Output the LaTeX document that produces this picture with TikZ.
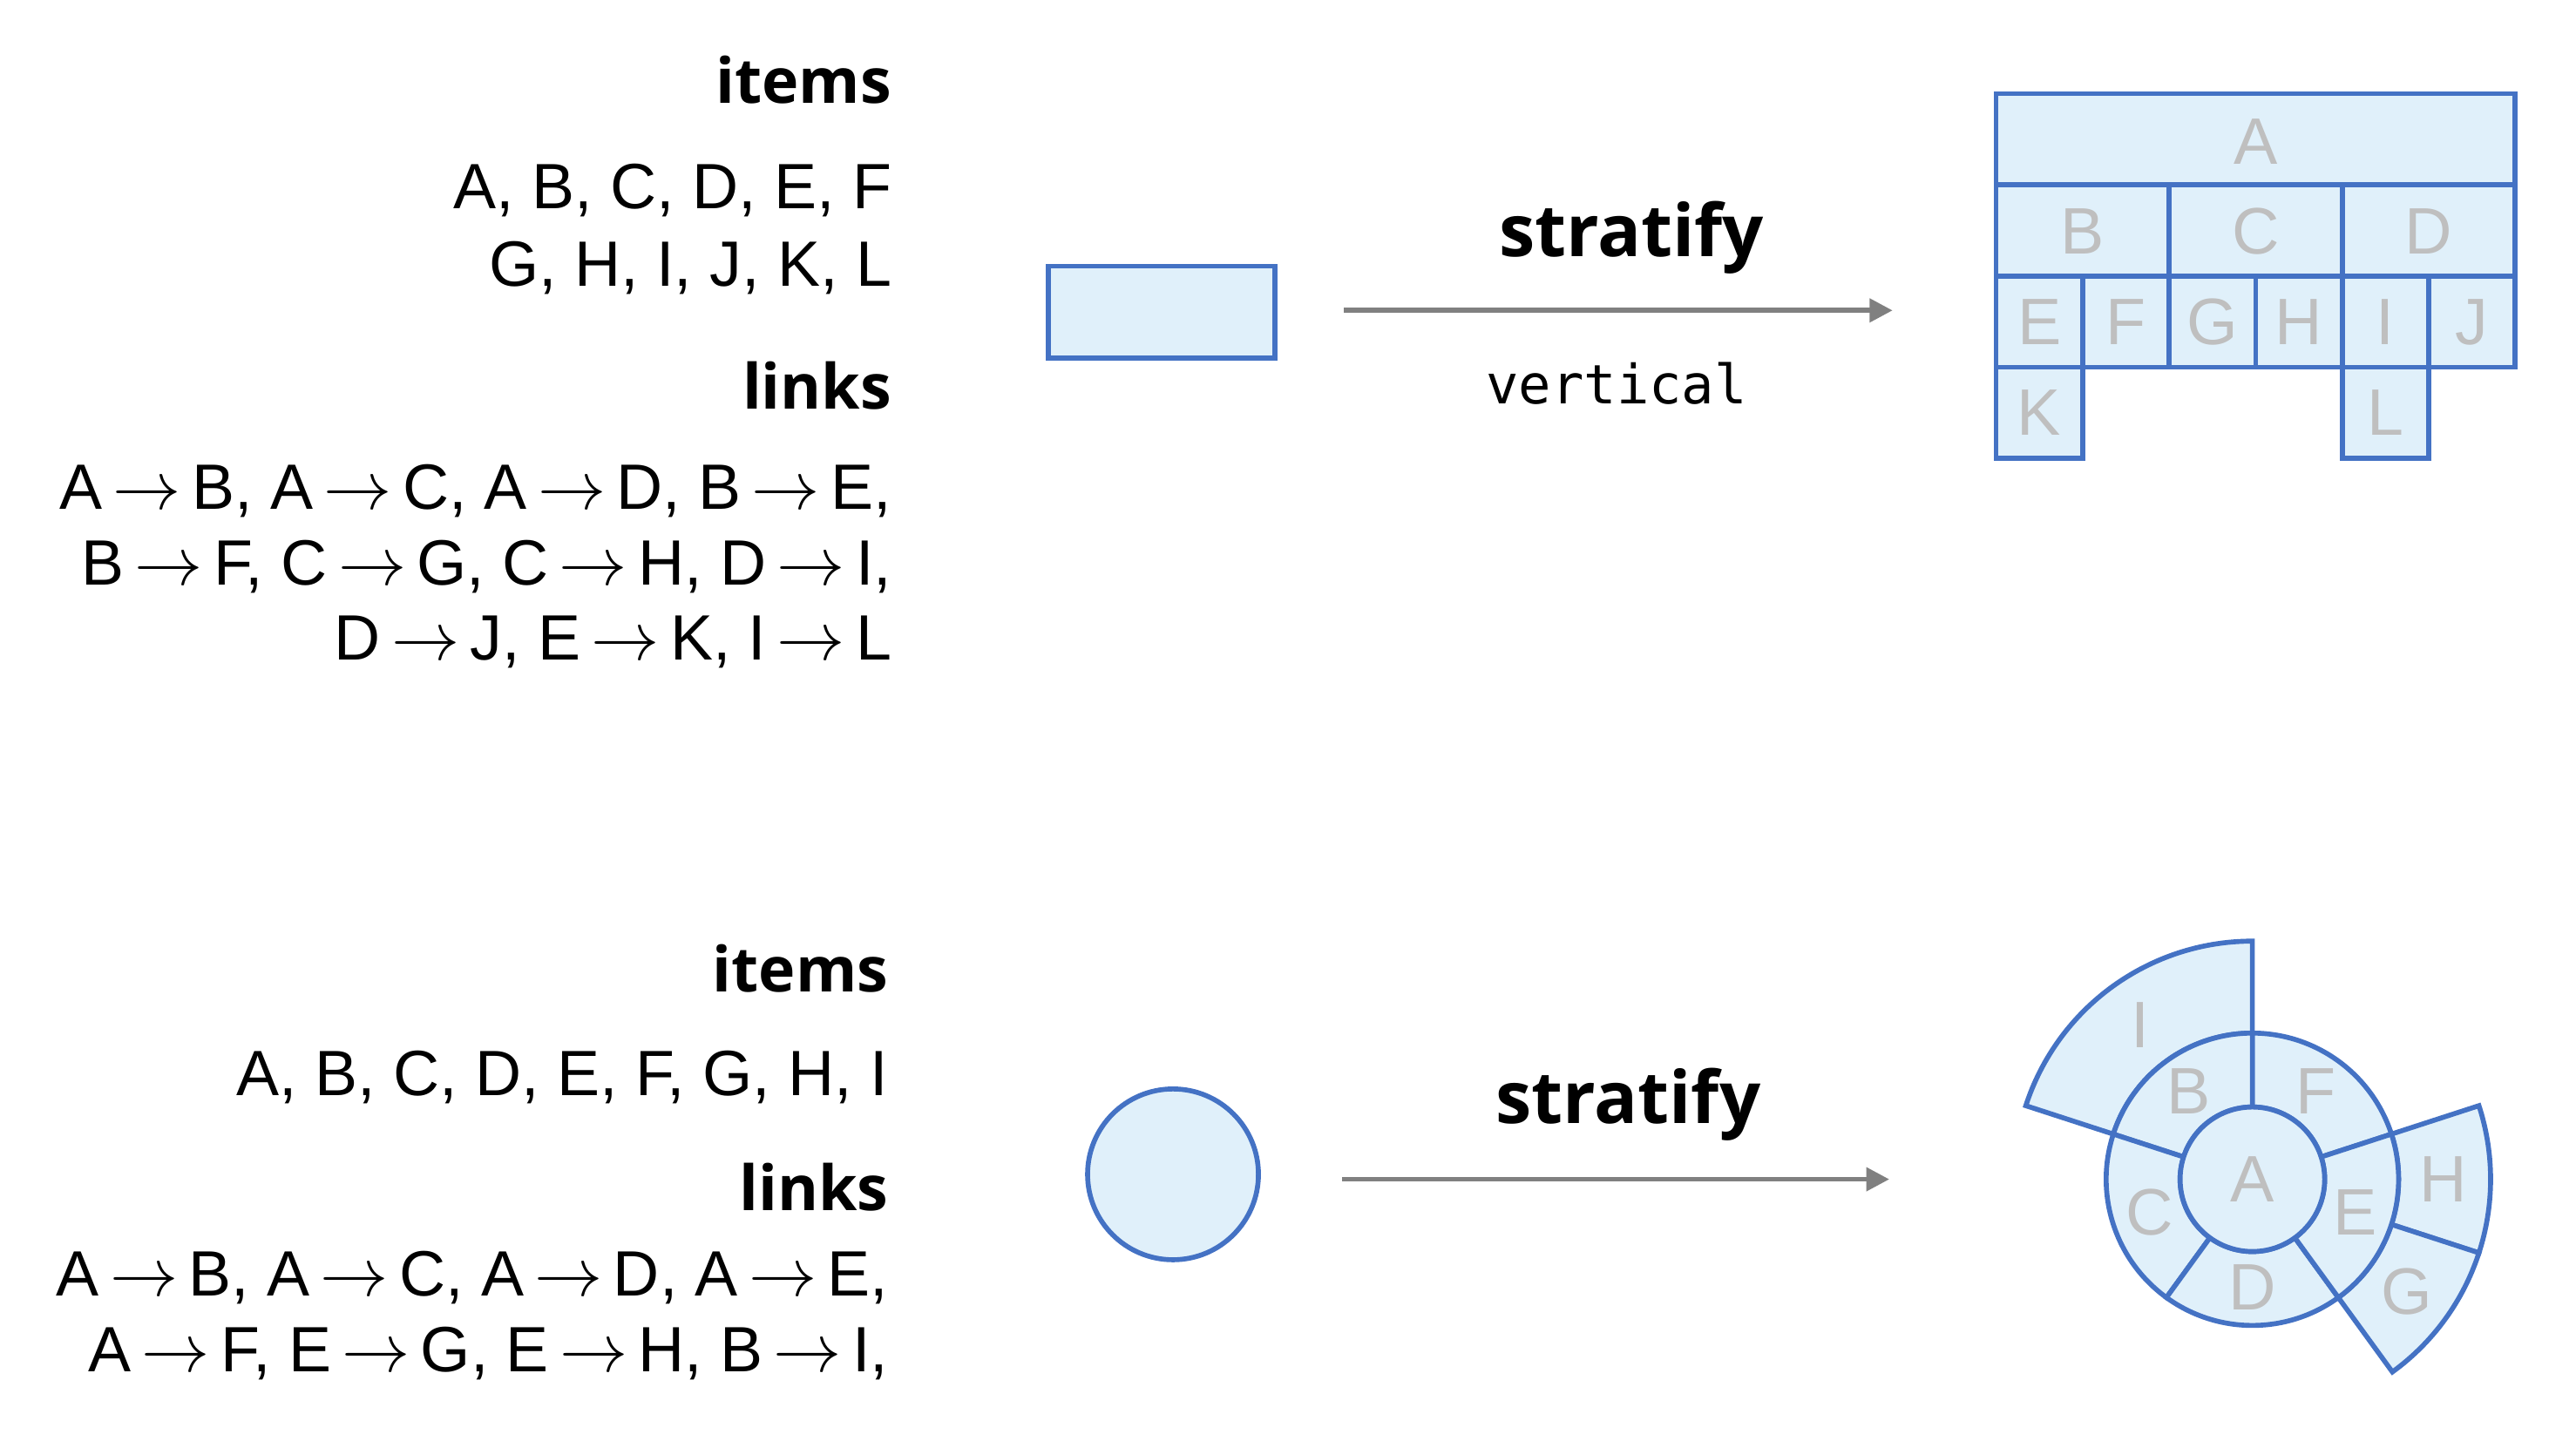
\documentclass[tikz,border=0pt]{standalone}
\usepackage{fontspec}
\setmainfont{Liberation Sans}
\newfontfamily\hdfont{Open Sans}
\newfontfamily\monofnt{DejaVu Sans Mono}
\usetikzlibrary{arrows.meta}
\definecolor{sbline}{HTML}{4472C4}
\definecolor{sbfill}{HTML}{E0F0FA}
\definecolor{lblgrey}{HTML}{BFBFBF}
\definecolor{arrgrey}{HTML}{808080}
\newcommand{\ra}{\,$\rightarrow$\,}
\begin{document}
\begin{tikzpicture}[x=0.5pt,y=-0.5pt,
  txt/.style={anchor=base east,inner sep=0pt,font=\fontsize{19.5}{24}\selectfont},
  hd/.style={anchor=base east,inner sep=0pt,font=\hdfont\bfseries\fontsize{19}{23}\selectfont},
  strat/.style={anchor=base,inner sep=0pt,font=\hdfont\bfseries\fontsize{22}{26}\selectfont},
  lbl/.style={inner sep=0pt,text=lblgrey,font=\fontsize{20}{24}\selectfont},
  cell/.style={draw=sbline,fill=sbfill,line width=1.5pt},
  arr/.style={draw=arrgrey,line width=1.5pt,-{Triangle[length=7pt,width=7pt]}}]
\useasboundingbox (0,0) rectangle (1568,877);
% ---------- top panel ----------
\node[hd] (it1) at (543,63) {items};
\node[txt] (i1a) at (543,127) {A, B, C, D, E, F};
\node[txt] (i1b) at (543,174) {G, H, I, J, K, L};
\node[hd] (ln1) at (543,249) {links};
\node[txt] (l1a) at (543,310) {A\ra B, A\ra C, A\ra D, B\ra E,};
\node[txt] (l1b) at (543,356) {B\ra F, C\ra G, C\ra H, D\ra I,};
\node[txt] (l1c) at (543,402) {D\ra J, E\ra K, I\ra L};
\draw[cell] (638,162) rectangle (776,218);
\coordinate (a1s) at (818,189);
\coordinate (a1e) at (1152,189);
\draw[arr] (a1s) -- (a1e);
\node[strat] (s1) at (993,156) {stratify};
\node[anchor=base,inner sep=0pt,font=\monofnt\fontsize{16.5}{20}\selectfont] (v1) at (984,246) {vertical};
% icicle
\draw[cell] (1215,57) rectangle (1531,112.5);
\node[lbl] at (1373,86) {A};
\foreach \i/\t in {0/B,1/C,2/D}{
  \draw[cell] ({1215+\i*105.33},112.5) rectangle ({1215+(\i+1)*105.33},168);
  \node[lbl] at ({1215+(\i+0.5)*105.33},141) {\t};}
\foreach \i/\t in {0/E,1/F,2/G,3/H,4/I,5/J}{
  \draw[cell] ({1215+\i*52.67},168) rectangle ({1215+(\i+1)*52.67},223.5);
  \node[lbl] at ({1215+(\i+0.5)*52.67},196) {\t};}
\draw[cell] (1215,223.5) rectangle (1267.67,279);
\node[lbl] at (1241.3,251) {K};
\draw[cell] (1425.67,223.5) rectangle (1478.33,279);
\node[lbl] at (1452,251) {L};
% ---------- bottom panel ----------
\node[hd] (it2) at (541,604) {items};
\node[txt] (i2a) at (541,667) {A, B, C, D, E, F, G, H, I};
\node[hd] (ln2) at (541,737) {links};
\node[txt] (l2a) at (541,789) {A\ra B, A\ra C, A\ra D, A\ra E,};
\node[txt] (l2b) at (541,835) {A\ra F, E\ra G, E\ra H, B\ra I,};
\draw[cell] (714,715) circle[radius=52];
\coordinate (a2s) at (817,718);
\coordinate (a2e) at (1150,718);
\draw[arr] (a2s) -- (a2e);
\node[strat] (s2) at (991,684) {stratify};
% sunburst
\coordinate (c) at (1371,718);
\newcommand{\sbsector}[4]{%
  \draw[cell] ([shift={(-#1:#3)}]c) arc[start angle=-#1,end angle=-#2,radius=#3]
    -- ([shift={(-#2:#4)}]c) arc[start angle=-#2,end angle=-#1,radius=#4] -- cycle;}
\sbsector{90}{162}{89}{145}
\sbsector{-18}{18}{89}{145}
\sbsector{-54}{-18}{89}{145}
\sbsector{18}{90}{44}{89}
\sbsector{90}{162}{44}{89}
\sbsector{162}{234}{44}{89}
\sbsector{234}{306}{44}{89}
\sbsector{-54}{18}{44}{89}
\draw[cell] (c) circle[radius=44];
\node[lbl] at (c) {A};
\foreach \a/\t in {54/F,126/B,198/C,270/D,-18/E}{\node[lbl] at ([shift={(-\a:66)}]c) {\t};}
\foreach \a/\t in {126/I,0/H,-36/G}{\node[lbl] at ([shift={(-\a:116)}]c) {\t};}
\end{tikzpicture}
\end{document}
